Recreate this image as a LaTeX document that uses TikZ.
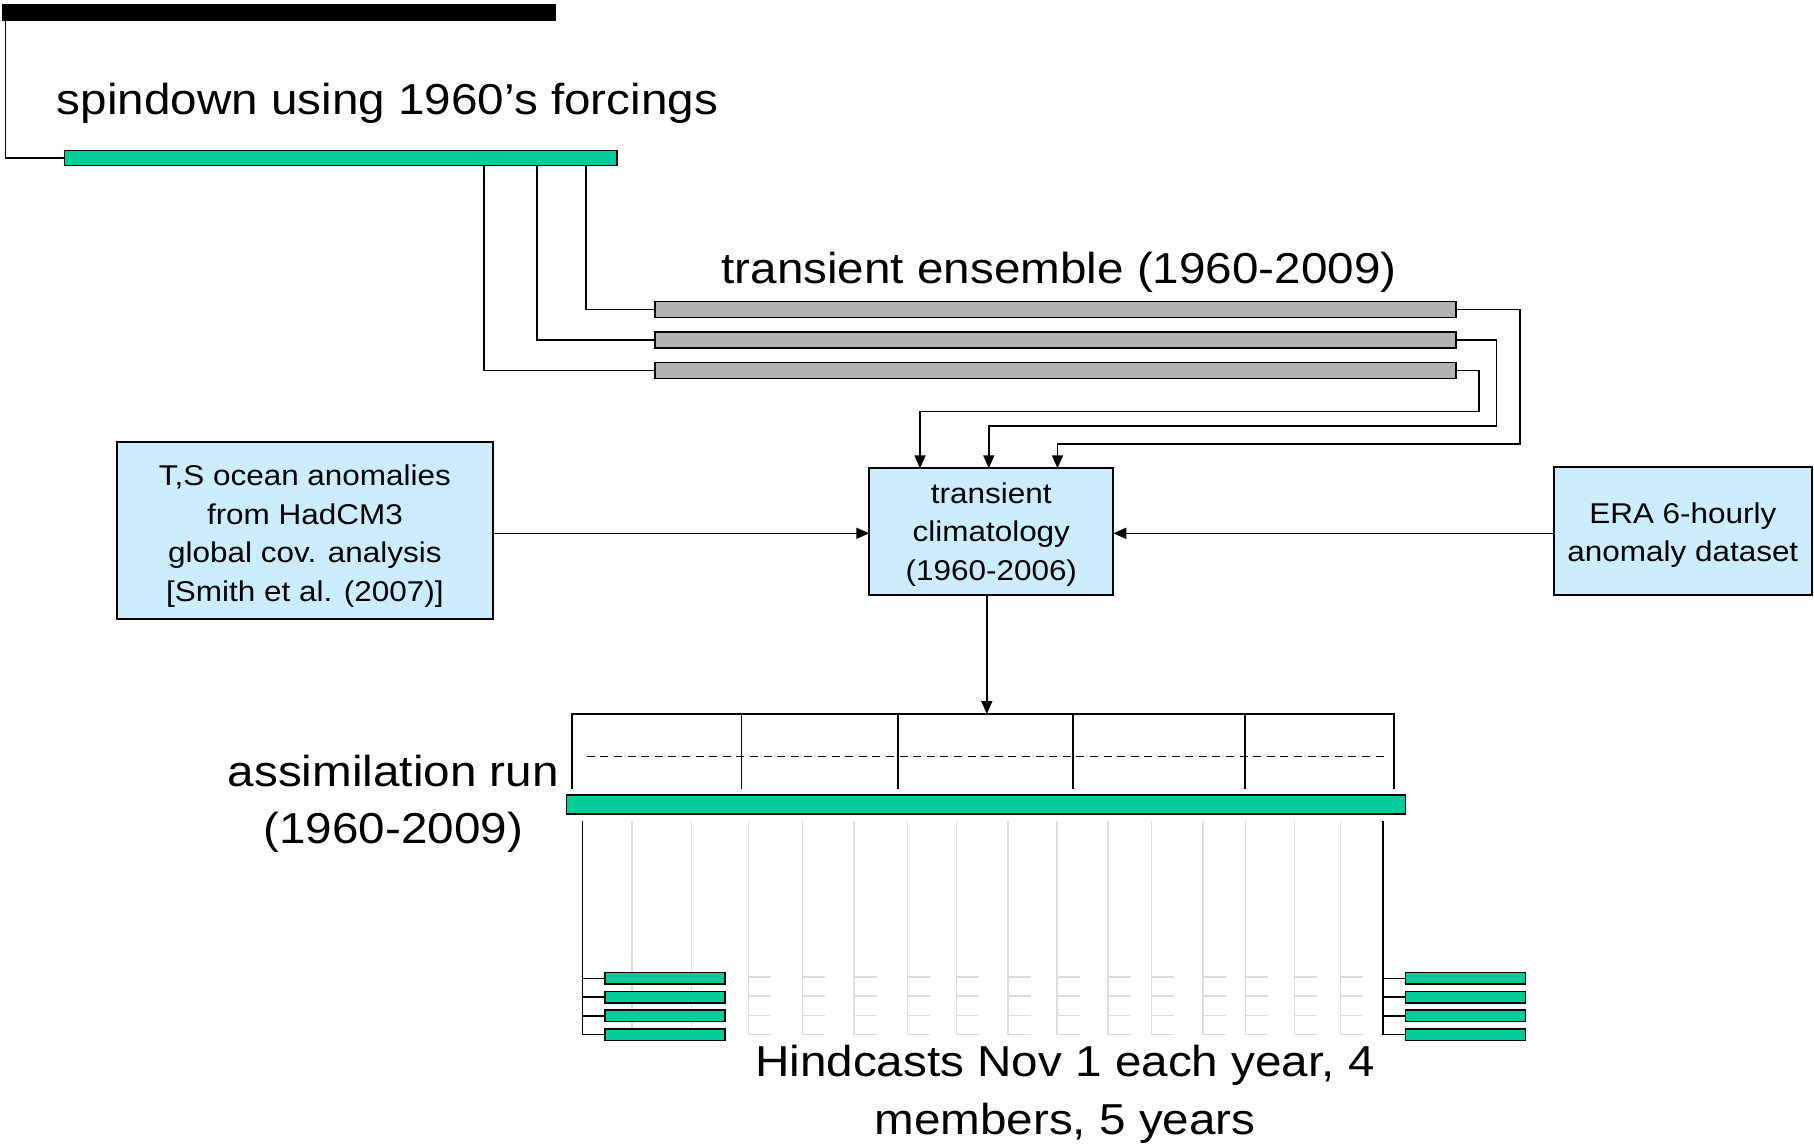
\documentclass[tikz,border=0pt]{standalone}
\usepackage{fontspec}
\setmainfont{Liberation Sans}[FakeStretch=1.1]
\usetikzlibrary{arrows.meta}
\definecolor{bargreen}{HTML}{00CC99}
\definecolor{boxblue}{HTML}{CCECFF}
\definecolor{bargray}{HTML}{B2B2B2}
\definecolor{faint}{HTML}{DDDDDD}
\newcommand{\myBig}{\fontsize{43.3pt}{57.8pt}\selectfont}
\newcommand{\mySmall}{\fontsize{28.6pt}{38.4pt}\selectfont}
\begin{document}
\begin{tikzpicture}[x=1pt,y=-1pt,
  conn/.style={line width=1.5pt},
  arr/.style={conn,-{Triangle[length=13pt,width=11pt]}},
  barbase/.style={draw=black, line width=1.5pt, inner sep=0pt, outer sep=0pt},
  greenbar/.style={barbase, fill=bargreen},
  graybar/.style={barbase, fill=bargray, minimum width=801.2pt, minimum height=16pt},
  smallbar/.style={barbase, fill=bargreen, minimum width=120pt, minimum height=11.5pt},
  infobox/.style={draw=black, line width=1.8pt, fill=boxblue, inner sep=0pt, outer sep=0pt},
  faintline/.style={draw=faint, line width=1.5pt},
  bigtext/.style={font=\myBig, inner sep=0pt, anchor=base},
  smalltext/.style={font=\mySmall, inner sep=0pt, anchor=base}]
\useasboundingbox (0,0) rectangle (1814,1145);

% top black bar and spindown
\node[fill=black, draw=none, minimum width=553.5pt, minimum height=16.7pt, inner sep=0pt, outer sep=0pt] (ctrl) at (278.75,12.35) {};
\node[greenbar, minimum width=552.7pt, minimum height=15pt] (spin) at (340.65,158.2) {};
\node[bigtext] (spintxt) at (387.5,115) {spindown using 1960’s forcings};
\coordinate (c0) at (5.4,0);
\draw[conn] (ctrl.south -| c0) |- (spin.west);

% transient ensemble
\node[bigtext] (enstxt) at (1059,283) {transient ensemble (1960-2009)};
\node[graybar] (t1) at (1055.4,309.7) {};
\node[graybar] (t2) at (1055.4,340) {};
\node[graybar] (t3) at (1055.4,370.3) {};
\coordinate (k1) at (586,0);
\coordinate (k2) at (537,0);
\coordinate (k3) at (484,0);
\draw[conn] (spin.south -| k1) |- (t1.west);
\draw[conn] (spin.south -| k2) |- (t2.west);
\draw[conn] (spin.south -| k3) |- (t3.west);

% boxes
\node[infobox, minimum width=244pt, minimum height=126.7pt] (clim) at (991.3,531.65) {};
\node[infobox, minimum width=375.5pt, minimum height=176.7pt] (lbox) at (304.9,530.65) {};
\node[infobox, minimum width=257.7pt, minimum height=128.3pt] (rbox) at (1682.85,530.85) {};
\node[smalltext] (climtxt) at (991.3,503.5) {\begin{tabular}[t]{@{}c@{}}transient\\climatology\\(1960-2006)\end{tabular}};
\node[smalltext] (ltxt) at (304.9,485.8) {\begin{tabular}[t]{@{}c@{}}T,S ocean anomalies\\from HadCM3\\global cov. analysis\\{[Smith et al. (2007)]}\end{tabular}};
\node[smalltext] (rtxt) at (1682.85,523.3) {\begin{tabular}[t]{@{}c@{}}ERA 6-hourly\\anomaly dataset\end{tabular}};

% ensemble -> climatology
\coordinate (r1) at (1519.8,444);
\coordinate (r2) at (1496.7,426);
\coordinate (r3) at (1479,411.7);
\coordinate (a1) at (1057.5,0);
\coordinate (a2) at (988.8,0);
\coordinate (a3) at (920,0);
\draw[arr] (t1.east) -| (r1) -| (clim.north -| a1);
\draw[arr] (t2.east) -| (r2) -| (clim.north -| a2);
\draw[arr] (t3.east) -| (r3) -| (clim.north -| a3);

% side arrows
\coordinate (ay) at (0,533.3);
\draw[arr] (lbox.east |- ay) -- (clim.west |- ay);
\draw[arr] (rbox.west |- ay) -- (clim.east |- ay);

% assimilation bracket
\coordinate (brtop) at (986.8,714);
\draw[arr] (clim.south -| brtop) -- (brtop);
\draw[conn] (572,789.3) -- (572,714) -- (1393.9,714) -- (1393.9,789.3);
\foreach \xx in {741.3,898,1073.2,1245} {\draw[conn] (\xx,714) -- (\xx,789.3);}
\draw[line width=1.4pt, dash pattern=on 8pt off 5.6pt] (586.7,756.7) -- (1387.5,756.7);
\node[greenbar, minimum width=839pt, minimum height=19pt] (assim) at (986.2,804.5) {};
\node[bigtext] (assimtxt) at (393.3,786) {\begin{tabular}[t]{@{}c@{}}assimilation run\\(1960-2009)\end{tabular}};

% faint hindcast lines
\foreach \xx in {632,691.7,748.3,802.3,854,907.7,956.7,1007.8,1056.8,1107.9,1151.4,1202.9,1245.7,1294.6,1340.4} {
  \draw[faintline] (\xx,821) -- (\xx,1034.3) -- ++(22.7,0);
  \foreach \yy in {977,996,1015.3} {\draw[faintline] (\xx,\yy) -- ++(22.7,0);}
}

% hindcast members
\node[smallbar] (lb1) at (665,978.3) {};
\node[smallbar] (lb2) at (665,997.1) {};
\node[smallbar] (lb3) at (665,1015.8) {};
\node[smallbar] (lb4) at (665,1034.5) {};
\node[smallbar] (rb1) at (1465.35,978.3) {};
\node[smallbar] (rb2) at (1465.35,997.1) {};
\node[smallbar] (rb3) at (1465.35,1015.8) {};
\node[smallbar] (rb4) at (1465.35,1034.5) {};
\coordinate (lv) at (582.7,821);
\coordinate (rv) at (1383.2,821);
\draw[conn] (lv) |- (lb4.west);
\draw[conn] (rv) |- (rb4.west);
\foreach \i in {1,2,3} {
  \draw[conn] (lb\i.west -| lv) -- (lb\i.west);
  \draw[conn] (rb\i.west -| rv) -- (rb\i.west);
}
\node[bigtext] (hindtxt) at (1065,1076.5) {\begin{tabular}[t]{@{}c@{}}Hindcasts Nov 1 each year, 4\\members, 5 years\end{tabular}};
\end{tikzpicture}
\end{document}
